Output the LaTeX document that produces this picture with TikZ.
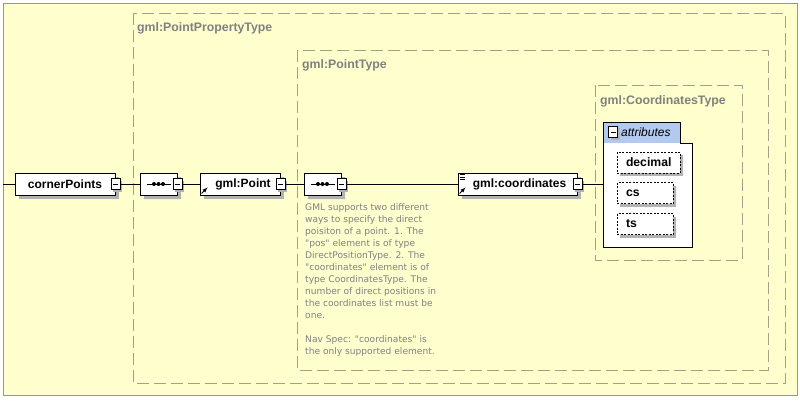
\documentclass[tikz,border=0pt]{standalone}
\usepackage{fontspec}
\setmainfont{Liberation Sans}
\newfontfamily\docfont{DejaVu Sans}
\usetikzlibrary{shapes.misc,shadows}
\definecolor{paper}{RGB}{255,255,206}
\definecolor{framegrey}{RGB}{150,150,150}
\definecolor{dashgrey}{RGB}{165,160,140}
\definecolor{labelgrey}{RGB}{128,128,128}
\definecolor{attrblue}{RGB}{178,202,240}
\definecolor{shade}{RGB}{178,178,178}
\tikzset{%
	typebox/.style={draw=dashgrey,line width=0.9pt,dash pattern=on 12pt off 5pt},
	typelabel/.style={anchor=west,inner sep=0pt,text=labelgrey,font=\bfseries\fontsize{12.3}{14}\selectfont},
	elem/.style={draw,line width=0.8pt,fill=white,minimum height=22pt,inner sep=0pt,font=\bfseries\fontsize{12}{14}\selectfont,general shadow={fill=shade,shadow xshift=4pt,shadow yshift=-4pt}},
	minusbox/.style={draw,line width=0.7pt,fill=white,minimum width=9pt,minimum height=11pt,inner sep=0pt,general shadow={fill=shade,shadow xshift=2pt,shadow yshift=-2pt},
		path picture={\draw[line width=0.7pt] ([xshift=2pt]path picture bounding box.west) -- ([xshift=-2pt]path picture bounding box.east);}},
	seqbox/.style={chamfered rectangle,chamfered rectangle xsep=6pt,chamfered rectangle ysep=6pt,draw,line width=0.8pt,fill=white,minimum width=37pt,minimum height=22pt,inner sep=0pt,general shadow={fill=shade,shadow xshift=4pt,shadow yshift=-4pt}},
	attr/.style={draw,line width=0.7pt,dash pattern=on 2pt off 1.5pt,fill=white,minimum height=21pt,inner sep=0pt,text width=#1,align=left,font=\bfseries\fontsize{12.2}{14}\selectfont,execute at begin node={\hyphenpenalty=10000\relax},general shadow={fill=shade,shadow xshift=3pt,shadow yshift=-3pt}},
	wire/.style={line width=0.8pt},
	doc/.style={anchor=north west,inner sep=0pt,align=left,text=labelgrey,font=\docfont\fontsize{9.1}{12}\selectfont},
}
\begin{document}
\begin{tikzpicture}[x=1pt,y=-1pt]
	\useasboundingbox (0,0) rectangle (800,401);
	\draw[framegrey,fill=paper,line width=0.8pt] (3,3) rectangle (797,395);

	%typy
	\draw[typebox] (133,13) rectangle (785,383);
	\node[typelabel] (pptype) at (137,28) {gml:PointPropertyType};
	\draw[typebox] (297,50) rectangle (768,370);
	\node[typelabel] (ptype) at (302,65) {gml:PointType};
	\draw[typebox] (595,85) rectangle (742,260);
	\node[typelabel] (ctype) at (600,101) {gml:CoordinatesType};

	%elementi
	\coordinate (start) at (3,184);
	\node[elem,minimum width=100pt] (corner) at (65,184) {cornerPoints};
	\node[minusbox] (m1) at (corner.east) {};
	\node[seqbox] (seq1) at (158.5,184) {};
	\node[minusbox] (m2) at (seq1.east) {};
	\node[elem,minimum width=80pt] (point) at (240,184) {\hspace{6pt}gml:Point};
	\node[minusbox] (m3) at (point.east) {};
	\node[seqbox] (seq2) at (322.5,184) {};
	\node[minusbox] (m4) at (seq2.east) {};
	\node[elem,minimum width=119pt] (coords) at (517.5,184) {\hspace{4pt}gml:coordinates};
	\node[minusbox] (m5) at (coords.east) {};

	%sekvenca
	\foreach \s in {seq1,seq2} {
		\draw[line width=1pt] ([xshift=-12pt]\s.center) -- ([xshift=12pt]\s.center);
		\foreach \d in {-4.5,0,4.5} \fill ([xshift=\d pt]\s.center) circle (2pt);
	}

	%oznake
	\draw[line width=0.8pt,-latex] ([shift={(2,-2)}]point.south west) -- ++(6,-6);
	\draw[line width=0.8pt,-latex] ([shift={(2,-2)}]coords.south west) -- ++(6,-6);
	\foreach \k in {0,2.5,5}
		\draw[line width=0.6pt] ([shift={(2,2)}]coords.north west) ++(0,\k) -- ++(5,0);

	%povezave
	\draw[wire] (start) -- (corner);
	\draw[wire] (m1) -- (seq1);
	\draw[wire] (m2) -- (point);
	\draw[wire] (m3) -- (seq2);
	\draw[wire] (m4) -- (coords);

	%atributi
	\fill[white] (603,143) rectangle (692,247);
	\fill[attrblue] (603,122) rectangle (680,143);
	\draw[line width=0.8pt] (603,122) -- (680,122) -- (680,143) -- (692,143) -- (692,247) -- (603,247) -- cycle;
	\coordinate (attrin) at (603,186);
	\draw[wire] (m5) -- (m5 -| attrin);
	\node[minusbox,general shadow={},draw,fill=white] (m6) at (613,132) {};
	\node[anchor=west,inner sep=0pt,font=\itshape\fontsize{12}{14}\selectfont] (attrs) at (621,132) {attributes};
	\node[attr=63pt] (decimal) at (648.5,162.5) {\hspace{9pt}decimal};
	\node[attr=56pt] (cs) at (645,193) {\hspace{9pt}cs};
	\node[attr=56pt] (ts) at (645,224) {\hspace{9pt}ts};

	%dokumentacija
	\node[doc] (note) at (305,203) {GML supports two different\\ways to specify the direct\\poisiton of a point. 1. The\\"pos" element is of type\\DirectPositionType. 2. The\\"coordinates" element is of\\type CoordinatesType. The\\number of direct positions in\\the coordinates list must be\\one.\\[12pt]Nav Spec: "coordinates" is\\the only supported element.};
\end{tikzpicture}
\end{document}
